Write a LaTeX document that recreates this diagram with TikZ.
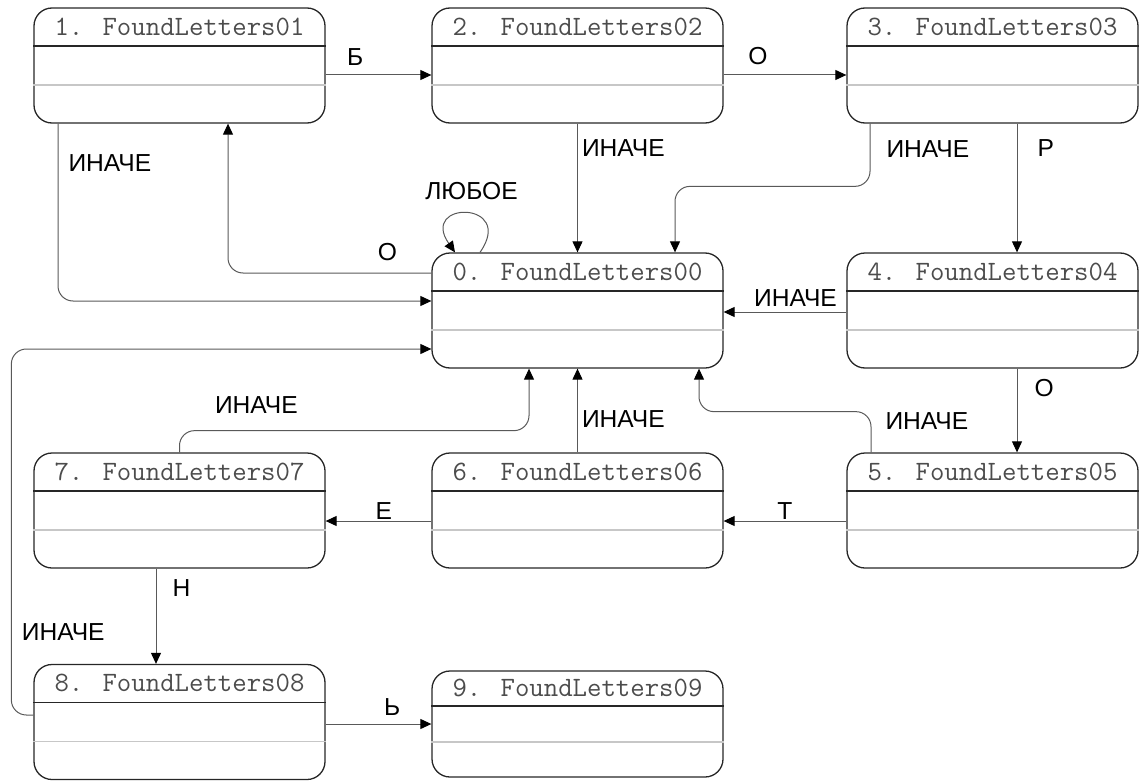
\documentclass[tikz,border=0pt]{standalone}
\usepackage{fontspec}
\setmainfont{Liberation Sans}
\usetikzlibrary{arrows.meta,calc}

\tikzset{
	fstate/.style={draw=black!85, line width=0.65pt, rounded corners=9pt, minimum width=145.5pt, minimum height=57.5pt, inner sep=0pt},
	ftitle/.style={font=\ttfamily\fontsize{14}{16}\selectfont, text=black!70, inner sep=0pt},
	tline/.style={draw=black!85, line width=0.65pt},
	gline/.style={draw=black!22, line width=0.65pt},
	trans/.style={draw=black!65, line width=0.5pt, -{Triangle[length=5.5pt,width=5pt,color=black]}},
	lbl/.style={font=\fontsize{12.3}{14}\selectfont, text=black, inner sep=0pt},
}

% state box: title part, then two empty parts
\newcommand{\letterstate}[4][]{%
	\node[fstate,#1] (#2) at (#3) {};
	\node[ftitle] (#2-t) at ($(#2.north)!0.166!(#2.south)$) {#4};
	\draw[tline] ($(#2.north west)!0.333!(#2.south west)$) -- ($(#2.north east)!0.333!(#2.south east)$);
	\draw[gline] ($(#2.north west)!0.667!(#2.south west)$) -- ($(#2.north east)!0.667!(#2.south east)$);
}

\begin{document}
\begin{tikzpicture}[x=0.5pt, y=-0.5pt]
	\useasboundingbox (0,0) rectangle (1145,781);
	
	\letterstate{s1}{179.5,65.5}{1. FoundLetters01}
	\letterstate{s2}{577.5,65.5}{2. FoundLetters02}
	\letterstate{s3}{992.5,65.5}{3. FoundLetters03}
	\letterstate{s0}{577.5,310.5}{0. FoundLetters00}
	\letterstate{s4}{992.5,310.5}{4. FoundLetters04}
	\letterstate{s7}{179.5,510.5}{7. FoundLetters07}
	\letterstate{s6}{577.5,510.5}{6. FoundLetters06}
	\letterstate{s5}{992.5,510.5}{5. FoundLetters05}
	\letterstate{s8}{179.5,722}{8. FoundLetters08}
	\letterstate[minimum height=53pt]{s9}{577.5,724}{9. FoundLetters09}
	
	\draw[trans] ($(s1.east)+(0,9.5)$) -- node[lbl, pos=0.28, yshift=9pt] {Б} ($(s2.west)+(0,9.5)$);
	\draw[trans] ($(s2.east)+(0,9.5)$) -- node[lbl, pos=0.28, yshift=9.5pt] {О} ($(s3.west)+(0,9.5)$);
	\draw[trans] (s2.south) -- node[lbl, anchor=west, pos=0.19, xshift=2pt] {ИНАЧЕ} (s0.north);
	\draw[trans, rounded corners=7.5pt] ($(s3.south)+(-122.5,0)$) |- node[lbl, anchor=west, pos=0.2, xshift=8pt] {ИНАЧЕ} ($(s0.north)+(97.5,-66)$) -- ($(s0.north)+(97.5,0)$);
	\draw[trans] ($(s3.south)+(24.5,0)$) -- node[lbl, anchor=west, pos=0.19, xshift=10pt] {Р} ($(s4.north)+(24.5,0)$);
	\draw[trans, rounded corners=7.5pt] ($(s1.south)+(-121.5,0)$) |- node[lbl, anchor=west, pos=0.11, xshift=5pt] {ИНАЧЕ} ($(s0.west)+(0,-9.5)$);
	\draw[trans, rounded corners=7.5pt] ($(s0.west)+(0,-37.5)$) -| node[lbl, pos=0.108, yshift=10.5pt] {О} ($(s1.south)+(48.5,0)$);
	\draw[trans] ($(s0.north)+(-97.5,0)$) to[out=55, in=125, looseness=6.5] node[lbl, pos=0.5, yshift=11pt, xshift=2pt] {ЛЮБОЕ} ($(s0.north)+(-122.5,0)$);
	\draw[trans] ($(s4.west)+(0,1.5)$) -- node[lbl, pos=0.415, yshift=7pt] {ИНАЧЕ} ($(s0.east)+(0,1.5)$);
	\draw[trans] ($(s4.south)+(24.5,0)$) -- node[lbl, anchor=west, pos=0.235, xshift=8.5pt] {О} ($(s5.north)+(24.5,0)$);
	\draw[trans, rounded corners=7.5pt] ($(s5.north)+(-121.5,0)$) |- node[lbl, anchor=west, pos=0.39, xshift=7pt] {ИНАЧЕ} ($(s0.south)+(121.5,43)$) -- ($(s0.south)+(121.5,0)$);
	\draw[trans] ($(s5.west)+(0,10.5)$) -- node[lbl, pos=0.5, yshift=5pt] {Т} ($(s6.east)+(0,10.5)$);
	\draw[trans] (s6.north) -- node[lbl, anchor=west, pos=0.4, xshift=2pt] {ИНАЧЕ} (s0.south);
	\draw[trans] ($(s6.west)+(0,10.5)$) -- node[lbl, pos=0.45, yshift=5pt] {Е} ($(s7.east)+(0,10.5)$);
	\draw[trans, rounded corners=7.5pt] (s7.north) |- node[lbl, pos=0.61, yshift=13pt] {ИНАЧЕ} ($(s0.south)+(-48.5,62)$) -- ($(s0.south)+(-48.5,0)$);
	\draw[trans] ($(s7.south)+(-23.5,0)$) -- node[lbl, anchor=west, pos=0.2, xshift=8pt] {Н} ($(s8.north)+(-23.5,0)$);
	\draw[trans, rounded corners=7.5pt] ($(s8.west)+(0,-7)$) -- ++(-22,0) |- node[lbl, anchor=west, pos=0.113, xshift=5pt] {ИНАЧЕ} ($(s0.west)+(0,38.5)$);
	\draw[trans] ($(s8.east)+(0,2)$) -- node[lbl, pos=0.63, yshift=8.5pt] {Ь} (s9.west);
\end{tikzpicture}
\end{document}
